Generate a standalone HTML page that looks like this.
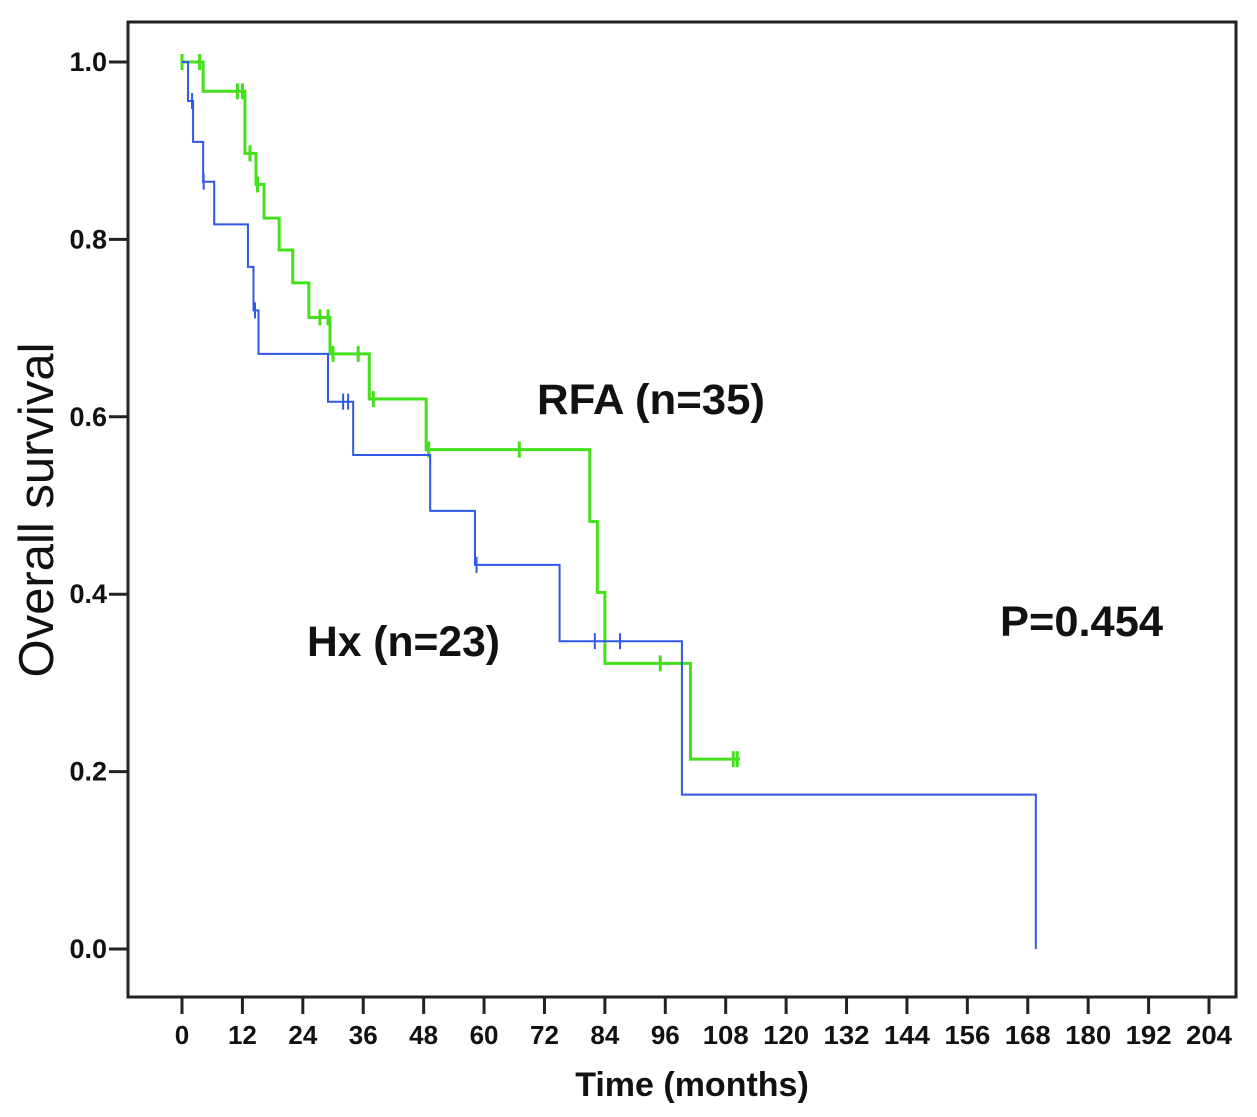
<!DOCTYPE html>
<html><head><meta charset="utf-8"><style>
html,body{margin:0;padding:0;background:#fff;}
svg{display:block;font-family:"Liberation Sans",Arial,sans-serif;}
</style></head><body>
<svg id="chart" width="1257" height="1117" viewBox="0 0 1257 1117" xmlns="http://www.w3.org/2000/svg">
<rect x="128" y="22" width="1108" height="975" fill="none" stroke="#222" stroke-width="3"/>
<g id="axes"></g>
<g id="series"></g>
<text transform="translate(53,510) rotate(-90)" text-anchor="middle" font-size="49" fill="#111">Overall survival</text>
<text x="692" y="1096" text-anchor="middle" font-size="34" font-weight="bold" fill="#111">Time (months)</text>
<text x="537" y="414" font-size="43" font-weight="bold" fill="#111" textLength="228" lengthAdjust="spacingAndGlyphs">RFA (n=35)</text>
<text x="307" y="656" font-size="43" font-weight="bold" fill="#111" textLength="193" lengthAdjust="spacingAndGlyphs">Hx (n=23)</text>
<text x="1000" y="636" font-size="43" font-weight="bold" fill="#111" textLength="163" lengthAdjust="spacingAndGlyphs">P=0.454</text>
</svg>
<script>
const xTicks=[0,12,24,36,48,60,72,84,96,108,120,132,144,156,168,180,192,204];
const yTicks=[0.0,0.2,0.4,0.6,0.8,1.0];
const hxTimes=[0,1.2,2.2,4.2,6.4,13.1,14.2,15.2,29,34,49.3,58.2,75,99.3,169.6];
const hxSurv=[1.0,0.956,0.91,0.865,0.817,0.769,0.72,0.671,0.617,0.557,0.494,0.433,0.347,0.174,0.0];
const hxEnd=169.6;
const hxCensor=[2,4.3,14.5,32,33,58.5,82,87];
const rfaTimes=[0,4.2,12.5,14.7,16.3,19.3,22,25.2,29.4,37.2,48.5,81,82.5,84,101];
const rfaSurv=[1.0,0.967,0.897,0.862,0.824,0.788,0.751,0.712,0.671,0.62,0.563,0.482,0.402,0.322,0.214];
const rfaEnd=110.8;
const rfaCensor=[0,3.5,11,12,13.5,15,27.4,29,30,35,38,49,67,95,109.5,110.3];
function X(t){return 182+t*(1209-182)/204;}
function Y(s){return 949-s*887;}
const NS="http://www.w3.org/2000/svg";
const axes=document.getElementById('axes');
const series=document.getElementById('series');
function mk(tag,attrs,parent){const e=document.createElementNS(NS,tag);for(const k in attrs)e.setAttribute(k,attrs[k]);parent.appendChild(e);return e;}
xTicks.forEach(v=>{
  const l=mk('line',{x1:X(v),x2:X(v),y1:997,y2:1014,stroke:'#222','stroke-width':3},axes);
  
  
  const t=mk('text',{x:X(v),y:1044,'text-anchor':'middle','font-size':26,'font-weight':'bold',fill:'#111'},axes);
  t.textContent=v;
  if(String(v).length===3){t.setAttribute('textLength','46');t.setAttribute('lengthAdjust','spacingAndGlyphs');}
  
  
});
yTicks.forEach(v=>{
  const l=mk('line',{x1:109,x2:128,y1:Y(v),y2:Y(v),stroke:'#222','stroke-width':3},axes);
  
  
  const t=mk('text',{x:107,y:Y(v)+9,'text-anchor':'end','font-size':27,'font-weight':'bold',fill:'#111'},axes);
  t.textContent=v.toFixed(1);
  
  
});
function survAt(times,surv,t){let s=surv[0];for(let i=0;i<times.length;i++){if(times[i]<=t)s=surv[i];}return s;}
function drawCurve(times,surv,end,censor,color,name,w){
  let d='M'+X(times[0])+','+Y(surv[0]);
  for(let i=1;i<times.length;i++){d+=' H'+X(times[i])+' V'+Y(surv[i]);}
  d+=' H'+X(end);
  const p=mk('path',{d:d,fill:'none',stroke:color,'stroke-width':w},series);
  
  
  censor.forEach(c=>{
    const s=survAt(times,surv,c);
    const m=mk('line',{x1:X(c),x2:X(c),y1:Y(s)-8,y2:Y(s)+8,stroke:color,'stroke-width':w},series);
    
    
  });
}
drawCurve(rfaTimes,rfaSurv,rfaEnd,rfaCensor,'#44e01c','rfa',3);
drawCurve(hxTimes,hxSurv,hxEnd,hxCensor,'#2f58e6','hx',2);
</script>
</body></html>
